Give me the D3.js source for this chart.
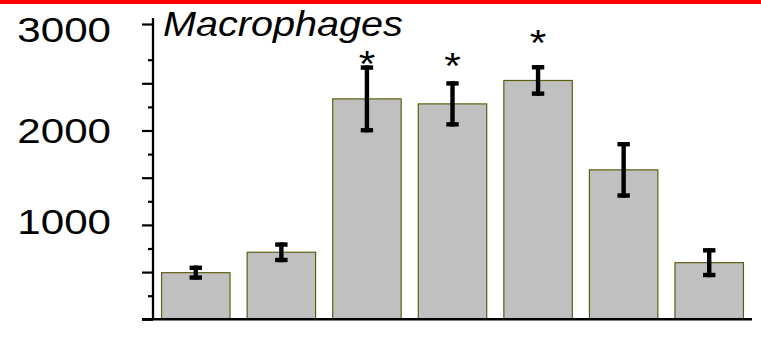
<!DOCTYPE html>
<html>
<head>
<meta charset="utf-8">
<script src="https://cdn.jsdelivr.net/npm/d3@7"></script>
<style>
  html, body { margin: 0; padding: 0; background: #fff; overflow: hidden; }
  svg { display: block; }
  text { font-family: Arial, "Liberation Sans", Helvetica, sans-serif; fill: #000; }
</style>
</head>
<body>
<svg id="chart" width="761" height="351"></svg>
<script>
// Macrophage counts per group: mean and error (± half-range)
const groups = ["g1", "g2", "g3", "g4", "g5", "g6", "g7"];
const means = [494, 710, 2335, 2282, 2530, 1583, 600];
const errors = [75, 105, 355, 240, 163, 295, 154];
// height (in data units) of the bottom of each significance asterisk
const starLevels = [null, null, 2712, 2696, 2877, null, null];
const majorTicks = [0, 500, 1000, 1500, 2000, 2500, 3000];
const minorTicks = [250, 750, 1250, 1750, 2250, 2750];
const labelledTicks = [1000, 2000, 3000];
const title = "Macrophages";

const W = 761, H = 351;
const svg = d3.select("#chart");
const textStretch = 1.17;
// baseline drop of each y label below its tick
const labelDrop = { 1000: 8.5, 2000: 11.8, 3000: 17.5 };

// red header strip
svg.append("rect").attr("x", 0).attr("y", 0).attr("width", W).attr("height", 4).attr("fill", "#ff0000");

const axisX = 153;
const x = d3.scaleBand().domain(groups).range([axisX, 752]).paddingInner(0.2).paddingOuter(0.1);
// the top segment of the axis is drawn slightly stretched
const y = d3.scaleLinear().domain([0, 2750, 3000]).range([319.3, 59.7, 24]);

// bars
svg.append("g").selectAll("rect").data(groups).join("rect")
  .attr("x", d => x(d))
  .attr("width", x.bandwidth())
  .attr("y", (d, i) => y(means[i]))
  .attr("height", (d, i) => y(0) - y(means[i]))
  .attr("fill", "#c0c0c0")
  .attr("stroke", "#5e5e10")
  .attr("stroke-width", 1.2);

// error bars
const eb = svg.append("g").attr("fill", "#000");
groups.forEach((g, i) => {
  const cx = x(g) + x.bandwidth() / 2;
  const hi = y(means[i] + errors[i]);
  const lo = y(means[i] - errors[i]);
  eb.append("rect").attr("x", cx - 2.2).attr("width", 4.4).attr("y", hi).attr("height", lo - hi);
  eb.append("rect").attr("x", cx - 6.2).attr("width", 12.4).attr("y", hi).attr("height", 4.4);
  eb.append("rect").attr("x", cx - 6.2).attr("width", 12.4).attr("y", lo - 4.4).attr("height", 4.4);
});

// significance asterisks
const starSize = 37;
svg.append("g").selectAll("text").data(groups.map((g, i) => ({ g, v: starLevels[i] })).filter(d => d.v !== null))
  .join("text")
  .attr("text-anchor", "middle")
  .attr("font-size", starSize)
  .attr("transform", d => `translate(${x(d.g) + x.bandwidth() / 2},${y(d.v) + 0.38 * starSize}) scale(1.15,1)`)
  .text("*");

// y axis: long ticks every 500, short ticks every 250
const majorAxis = d3.axisLeft(y).tickValues(majorTicks).tickSize(11)
  .tickFormat(d => labelledTicks.includes(d) ? String(d) : "");
const gMajor = svg.append("g").attr("transform", `translate(${axisX},0)`).call(majorAxis);
gMajor.select(".domain").remove();
gMajor.selectAll(".tick line").attr("stroke", "#000").attr("stroke-width", 2.2);
gMajor.selectAll(".tick text")
  .attr("x", null).attr("dy", null)
  .attr("font-size", 36)
  .attr("text-anchor", "end")
  .attr("fill", "#000")
  .attr("transform", d => `translate(-42,${labelDrop[d] || 11}) scale(${textStretch},1)`);

const minorAxis = d3.axisLeft(y).tickValues(minorTicks).tickSize(5).tickFormat("");
const gMinor = svg.append("g").attr("transform", `translate(${axisX},0)`).call(minorAxis);
gMinor.select(".domain").remove();
gMinor.selectAll(".tick line").attr("stroke", "#000").attr("stroke-width", 2.2);

// axis lines
svg.append("line").attr("x1", axisX).attr("x2", axisX)
  .attr("y1", y(0)).attr("y2", y(3000) - 6)
  .attr("stroke", "#000").attr("stroke-width", 2.3);
svg.append("line").attr("x1", axisX - 11).attr("x2", x.range()[1])
  .attr("y1", y(0)).attr("y2", y(0))
  .attr("stroke", "#000").attr("stroke-width", 2.6);

// title
svg.append("text")
  .attr("font-size", 36)
  .attr("font-style", "italic")
  .attr("transform", `translate(163,36) scale(1.1,1)`)
  .text(title);
</script>
</body>
</html>
